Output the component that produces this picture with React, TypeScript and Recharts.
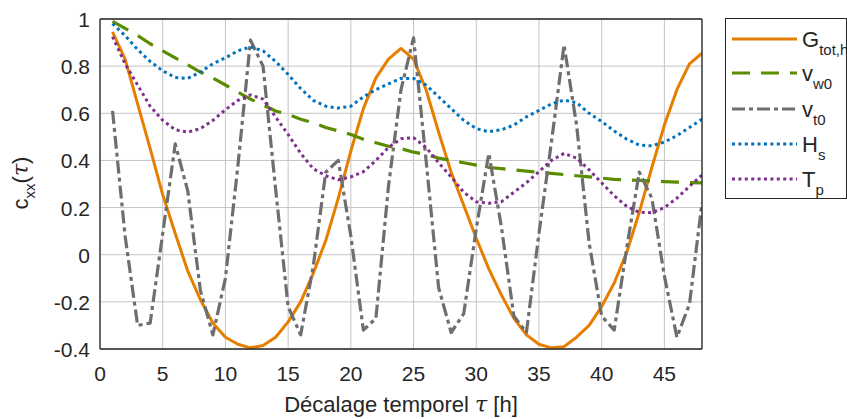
import React from 'react';
import { LineChart, Line, XAxis, YAxis, CartesianGrid } from 'recharts';

const FONT = "'Liberation Sans', Arial, Helvetica, sans-serif";
const INK = '#262626';

// time lag in hours
const lagHours = [
  1, 2, 3, 4, 5, 6, 7, 8, 9, 10, 11, 12, 13, 14, 15, 16, 17, 18, 19, 20, 21, 22, 23, 24,
  25, 26, 27, 28, 29, 30, 31, 32, 33, 34, 35, 36, 37, 38, 39, 40, 41, 42, 43, 44, 45, 46, 47, 48,
];

const gTotH = [
  0.945, 0.83, 0.64, 0.45, 0.255, 0.09, -0.07, -0.19, -0.29, -0.35, -0.38, -0.395,
  -0.385, -0.35, -0.285, -0.2, -0.08, 0.06, 0.24, 0.44, 0.62, 0.75, 0.83, 0.875,
  0.83, 0.7, 0.52, 0.35, 0.21, 0.07, -0.06, -0.17, -0.27, -0.34, -0.38, -0.395,
  -0.39, -0.35, -0.3, -0.22, -0.12, 0.01, 0.18, 0.37, 0.55, 0.7, 0.81, 0.855,
];

const vW0 = [
  0.99, 0.96, 0.93, 0.895, 0.865, 0.835, 0.805, 0.775, 0.75, 0.72, 0.69, 0.66,
  0.635, 0.61, 0.595, 0.575, 0.56, 0.54, 0.525, 0.51, 0.49, 0.475, 0.46, 0.45,
  0.435, 0.425, 0.41, 0.4, 0.39, 0.38, 0.37, 0.365, 0.36, 0.355, 0.35, 0.345,
  0.34, 0.335, 0.33, 0.325, 0.32, 0.318, 0.315, 0.313, 0.31, 0.308, 0.306, 0.305,
];

const vT0 = [
  0.61, 0.08, -0.3, -0.29, 0.09, 0.47, 0.27, -0.15, -0.34, -0.1, 0.38, 0.91,
  0.8, 0.28, -0.22, -0.34, -0.05, 0.35, 0.4, 0.08, -0.32, -0.27, 0.29, 0.7,
  0.92, 0.4, -0.14, -0.33, -0.25, 0.11, 0.43, 0.12, -0.26, -0.33, 0.09, 0.48,
  0.89, 0.55, 0.05, -0.26, -0.32, 0.03, 0.35, 0.24, -0.09, -0.35, -0.21, 0.22,
];

const hS = [
  0.98, 0.93, 0.87, 0.82, 0.78, 0.752, 0.748, 0.775, 0.81, 0.835, 0.865, 0.882,
  0.865, 0.82, 0.765, 0.705, 0.655, 0.63, 0.622, 0.63, 0.67, 0.7, 0.725, 0.748,
  0.748, 0.72, 0.67, 0.62, 0.57, 0.535, 0.522, 0.53, 0.55, 0.585, 0.612, 0.64,
  0.656, 0.645, 0.6, 0.565, 0.525, 0.49, 0.465, 0.462, 0.478, 0.505, 0.54, 0.575,
];

const tP = [
  0.925, 0.81, 0.72, 0.63, 0.57, 0.53, 0.52, 0.535, 0.57, 0.615, 0.655, 0.678,
  0.66, 0.585, 0.51, 0.43, 0.365, 0.335, 0.318, 0.33, 0.352, 0.4, 0.455, 0.492,
  0.497, 0.455, 0.39, 0.33, 0.265, 0.225, 0.218, 0.225, 0.265, 0.305, 0.352, 0.4,
  0.43, 0.41, 0.36, 0.305, 0.25, 0.205, 0.18, 0.178, 0.2, 0.24, 0.29, 0.338,
];

const xTicks = [0, 5, 10, 15, 20, 25, 30, 35, 40, 45];
const yTicks = [-0.4, -0.2, 0, 0.2, 0.4, 0.6, 0.8, 1];
const yTickLabels = ['-0.4', '-0.2', '0', '0.2', '0.4', '0.6', '0.8', '1'];

const seriesInfo = [
  { key: 'g', main: 'G', sub: 'tot,h', color: '#E67E00', dash: undefined as string | undefined, width: 3 },
  { key: 'vw', main: 'v', sub: 'w0', color: '#5B8C00', dash: '18 11', width: 3.2 },
  { key: 'vt', main: 'v', sub: 't0', color: '#6E6E6E', dash: '13 4 4 4', width: 3.2 },
  { key: 'hs', main: 'H', sub: 's', color: '#0072BD', dash: '3 3.4', width: 3 },
  { key: 'tp', main: 'T', sub: 'p', color: '#7E2F8E', dash: '3 3.4', width: 3 },
];

const data = lagHours.map((t, i) => ({
  t,
  g: gTotH[i],
  vw: vW0[i],
  vt: vT0[i],
  hs: hS[i],
  tp: tP[i],
}));

const XTick = (props: any) => {
  const { x, y, payload } = props;
  return (
    <text x={x} y={y + 24} textAnchor="middle" fill={INK} fontSize={21} fontFamily={FONT}>
      {String(payload.value)}
    </text>
  );
};

const YTick = (props: any) => {
  const { x, y, payload } = props;
  const idx = yTicks.findIndex((v) => Math.abs(v - payload.value) < 1e-9);
  const label = idx >= 0 ? yTickLabels[idx] : String(payload.value);
  return (
    <text x={x - 2} y={y + 8} textAnchor="end" fill={INK} fontSize={21} fontFamily={FONT}>
      {label}
    </text>
  );
};

const legendRows = [39, 73, 109, 144, 179];

export default function App() {
  return (
    <div style={{ position: 'absolute', left: 0, top: 0, width: 847, height: 419, background: '#fff', overflow: 'hidden' }}>
      <LineChart
        width={847}
        height={419}
        data={data}
        margin={{ top: 19, right: 145, bottom: 0, left: 0 }}
      >
        <CartesianGrid xAxisId="b" yAxisId="l" stroke="#c4c4c4" strokeWidth={1} />
        <XAxis
          xAxisId="b"
          dataKey="t"
          type="number"
          domain={[0, 48]}
          ticks={xTicks}
          interval={0}
          allowDataOverflow
          height={70}
          axisLine={{ stroke: INK, strokeWidth: 1.3 }}
          tickLine={false}
          tickSize={6}
          tickMargin={2}
          tick={XTick}
        />
        <XAxis
          xAxisId="bi"
          dataKey="t"
          type="number"
          domain={[0, 48]}
          ticks={xTicks}
          interval={0}
          allowDataOverflow
          orientation="bottom"
          mirror
          axisLine={false}
          tickLine={{ stroke: INK, strokeWidth: 1.3 }}
          tickSize={6}
          tick={false}
        />
        <XAxis
          xAxisId="t"
          dataKey="t"
          type="number"
          domain={[0, 48]}
          ticks={xTicks}
          interval={0}
          allowDataOverflow
          orientation="top"
          mirror
          axisLine={{ stroke: INK, strokeWidth: 1.3 }}
          tickLine={{ stroke: INK, strokeWidth: 1.3 }}
          tickSize={6}
          tick={false}
        />
        <YAxis
          yAxisId="l"
          type="number"
          domain={[-0.4, 1]}
          ticks={yTicks}
          interval={0}
          allowDataOverflow
          width={100}
          axisLine={{ stroke: INK, strokeWidth: 1.3 }}
          tickLine={false}
          tickSize={6}
          tickMargin={2}
          tick={YTick}
        />
        <YAxis
          yAxisId="li"
          type="number"
          domain={[-0.4, 1]}
          ticks={yTicks}
          interval={0}
          allowDataOverflow
          orientation="left"
          mirror
          axisLine={false}
          tickLine={{ stroke: INK, strokeWidth: 1.3 }}
          tickSize={6}
          tick={false}
        />
        <YAxis
          yAxisId="r"
          type="number"
          domain={[-0.4, 1]}
          ticks={yTicks}
          interval={0}
          allowDataOverflow
          orientation="right"
          mirror
          axisLine={{ stroke: INK, strokeWidth: 1.3 }}
          tickLine={{ stroke: INK, strokeWidth: 1.3 }}
          tickSize={6}
          tick={false}
        />
        {seriesInfo.map((s) => (
          <Line
            key={s.key}
            xAxisId="b"
            yAxisId="l"
            type="linear"
            dataKey={s.key}
            stroke={s.color}
            strokeWidth={s.width}
            strokeDasharray={s.dash}
            strokeLinecap="butt"
            strokeLinejoin="round"
            dot={false}
            activeDot={false}
            isAnimationActive={false}
          />
        ))}
      </LineChart>
      <svg
        width={847}
        height={419}
        style={{ position: 'absolute', left: 0, top: 0, pointerEvents: 'none' }}
      >
        {/* y axis label */}
        <text transform="translate(28,183) rotate(-90)" textAnchor="middle" fill={INK} fontSize={22} fontFamily={FONT}>
          c<tspan fontSize={15} dy={7}>xx</tspan>
          <tspan dy={-7}>(</tspan>
          <tspan fontStyle="italic" fontFamily="'DejaVu Serif', serif">τ</tspan>
          <tspan>)</tspan>
        </text>
        {/* x axis label */}
        <text x={401} y={412} textAnchor="middle" fill={INK} fontSize={22} fontFamily={FONT}>
          Décalage temporel <tspan fontStyle="italic" fontFamily="'DejaVu Serif', serif">τ</tspan> [h]
        </text>
        {/* legend */}
        <rect x={725.5} y={18.5} width={121} height={180} fill="#fff" stroke={INK} strokeWidth={1} />
        {seriesInfo.map((s, i) => {
          const y = legendRows[i];
          return (
            <g key={s.key}>
              <line
                x1={732}
                x2={797}
                y1={y}
                y2={y}
                stroke={s.color}
                strokeWidth={s.width}
                strokeDasharray={s.dash}
              />
              <text x={802} y={y + 8} fill={INK} fontSize={22} fontFamily={FONT}>
                {s.main}
                <tspan fontSize={15} dy={8}>{s.sub}</tspan>
              </text>
            </g>
          );
        })}
      </svg>
    </div>
  );
}
